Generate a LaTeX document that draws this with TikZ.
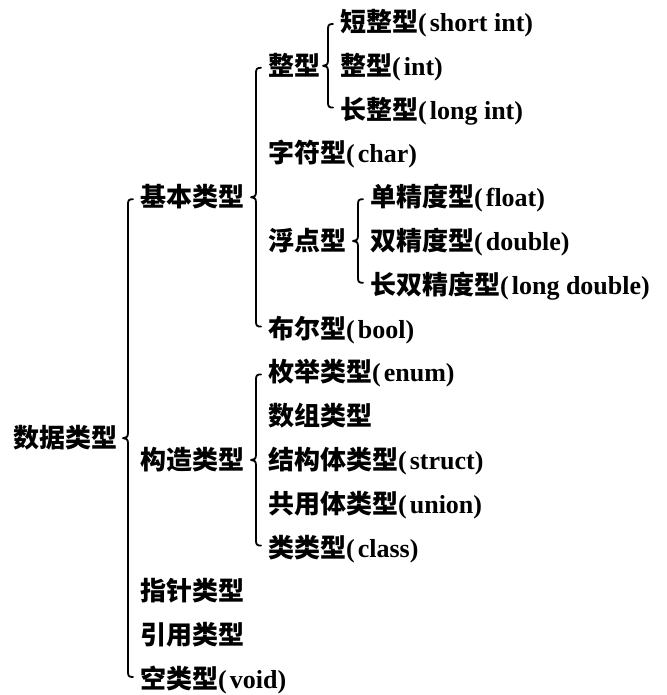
\documentclass[tikz,border=0pt]{standalone}
\usepackage{fontspec}
\setmainfont{Liberation Serif}
\newfontfamily\cjk{Noto Sans CJK SC}
\usetikzlibrary{calc}
\newcommand\zh[1]{{\cjk\bfseries #1}}
\newcommand\en[1]{{\bfseries(\kern3pt#1)}}
\newcommand\mybrace[3]{%
\draw[bracestyle] ($(#1.west)+(-7,-2)$) .. controls ($(#1.west)+(-11,-2)$) and ($(#1.west)+(-12,-3)$) .. ($(#1.west)+(-12,-7)$)
 -- ($(#1.west |- #3.west)+(-12,5)$) .. controls ($(#1.west |- #3.west)+(-12,1)$) and ($(#1.west |- #3.west)+(-14,0)$) .. ($(#1.west |- #3.west)+(-17,0)$)
 .. controls ($(#1.west |- #3.west)+(-14,0)$) and ($(#1.west |- #3.west)+(-12,-1)$) .. ($(#1.west |- #3.west)+(-12,-5)$)
 -- ($(#2.west)+(-12,7)$) .. controls ($(#2.west)+(-12,3)$) and ($(#2.west)+(-11,2)$) .. ($(#2.west)+(-7,2)$);}
\begin{document}
\begin{tikzpicture}[x=1pt,y=1pt,
  item/.style={anchor=west,inner sep=0pt,text height=19pt,text depth=0pt,font=\fontsize{26pt}{30pt}\selectfont},
  bracestyle/.style={line width=1.8pt,line cap=round,line join=round}]
\useasboundingbox (0,0) rectangle (666,-695);
\def\r#1{-22-43.8*#1}
% root
\node[item] (root) at (13,{\r{9.5}}) {\zh{数据类型}};
% level 1
\node[item] (jb) at (140,{\r{4}}) {\zh{基本类型}};
\node[item] (gz) at (140,{\r{10}}) {\zh{构造类型}};
\node[item] (zz) at (140,{\r{13}}) {\zh{指针类型}};
\node[item] (yy) at (140,{\r{14}}) {\zh{引用类型}};
\node[item] (kl) at (140,{\r{15}}) {\zh{空类型}\en{void}};
% level 2 under basic
\node[item] (zx) at (268,{\r{1}}) {\zh{整型}};
\node[item] (zf) at (268,{\r{3}}) {\zh{字符型}\en{char}};
\node[item] (fd) at (268,{\r{5}}) {\zh{浮点型}};
\node[item] (be) at (268,{\r{7}}) {\zh{布尔型}\en{bool}};
% level 2 under constructed
\node[item] (mj) at (268,{\r{8}}) {\zh{枚举类型}\en{enum}};
\node[item] (sz) at (268,{\r{9}}) {\zh{数组类型}};
\node[item] (jg) at (268,{\r{10}}) {\zh{结构体类型}\en{struct}};
\node[item] (gy) at (268,{\r{11}}) {\zh{共用体类型}\en{union}};
\node[item] (lc) at (268,{\r{12}}) {\zh{类类型}\en{class}};
% level 3 under int
\node[item] (dz) at (340,{\r{0}}) {\zh{短整型}\en{short int}};
\node[item] (zi) at (340,{\r{1}}) {\zh{整型}\en{int}};
\node[item] (cz) at (340,{\r{2}}) {\zh{长整型}\en{long int}};
% level 3 under float
\node[item] (dj) at (370,{\r{4}}) {\zh{单精度型}\en{float}};
\node[item] (sj) at (370,{\r{5}}) {\zh{双精度型}\en{double}};
\node[item] (cj) at (370,{\r{6}}) {\zh{长双精度型}\en{long double}};
% braces
\mybrace{jb}{kl}{root}
\mybrace{zx}{be}{jb}
\mybrace{dz}{cz}{zx}
\mybrace{dj}{cj}{fd}
\mybrace{mj}{lc}{gz}
\end{tikzpicture}
\end{document}
